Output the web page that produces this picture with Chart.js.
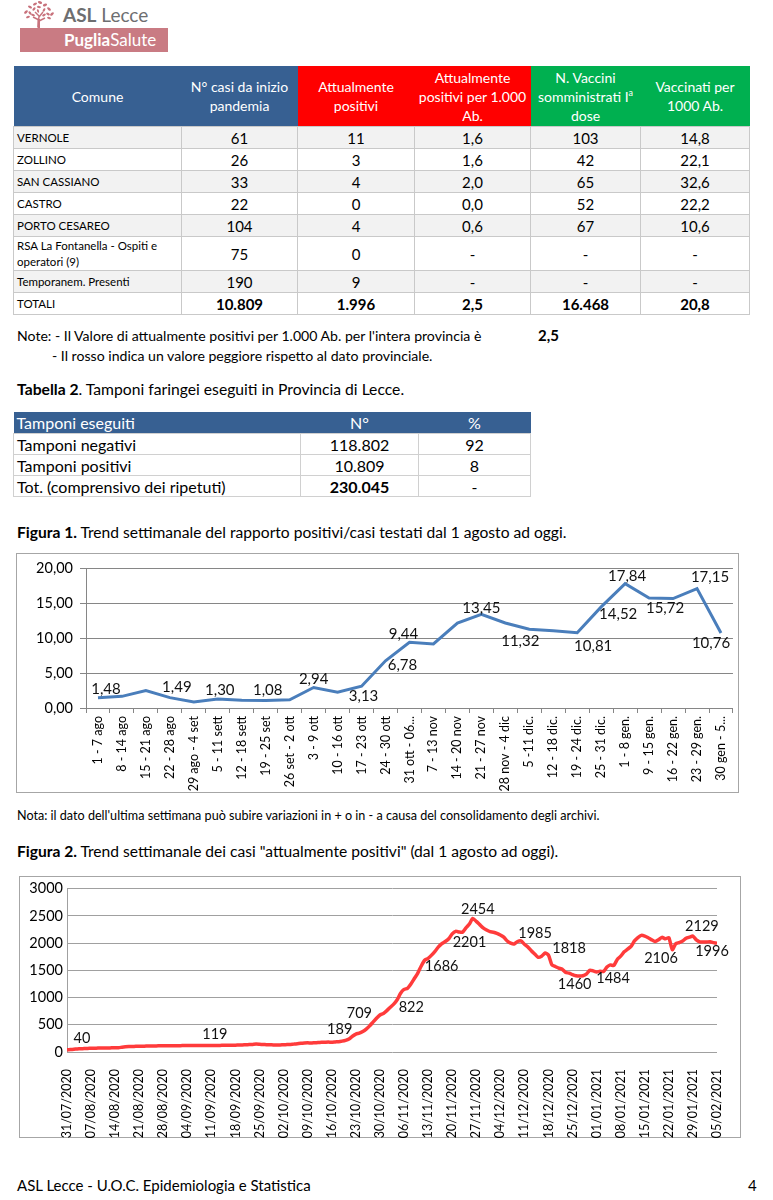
<!DOCTYPE html>
<html>
<head>
<meta charset="utf-8">
<script src="https://cdn.jsdelivr.net/npm/chart.js@4.4.1/dist/chart.umd.min.js"></script>
<style>
  body { margin: 0; width: 773px; height: 1200px; background: #fff; font-family: Lato, sans-serif; color: #000; position: relative; overflow: hidden; }
  .abs { position: absolute; white-space: nowrap; }
  .t1 { position: absolute; left: 13px; top: 66px; width: 736px; border-collapse: collapse; table-layout: fixed; }
  .t1 th { color: #fff; font-weight: normal; font-size: 14px; line-height: 19px; padding: 0 2px; height: 60px; text-align: center; }
  .t1 th.b { background: #376092; }
  .t1 th.r { background: #ff0000; }
  .t1 th.g { background: #00b050; }
  .t1 td { border: 1px solid #c9c9c9; height: 21px; padding: 0; text-align: center; font-size: 15px; }
  .t1 td.n { text-align: left; padding-left: 3px; font-size: 11.5px; }
  .t1 tr.s td { background: #f2f2f2; }
  .t1 tr.tot td { font-weight: bold; }
  .t1 tr.tot td.n { font-weight: normal; }
  .t2 { position: absolute; left: 13px; top: 412px; width: 517px; border-collapse: collapse; table-layout: fixed; font-size: 16px; }
  .t2 th { background: #376092; color: #fff; font-weight: normal; height: 21px; padding: 0; }
  .t2 td { border: 1px solid #d0d0d0; height: 20px; padding: 0; text-align: center; }
  .t2 .l { text-align: left; padding-left: 3px; }
  .box { position: absolute; border: 1px solid #a6a6a6; box-sizing: border-box; }
  canvas { position: absolute; }
</style>
</head>
<body>

<svg class="abs" style="left:18px;top:0" width="42" height="30" viewBox="0 0 42 30">
  <g fill="#c8727c">
    <ellipse cx="8" cy="12" rx="2.2" ry="1.2" transform="rotate(-40 8 12)"/>
    <ellipse cx="12" cy="7" rx="2.2" ry="1.2" transform="rotate(30 12 7)"/>
    <ellipse cx="17" cy="4" rx="2.2" ry="1.2" transform="rotate(-30 17 4)"/>
    <ellipse cx="22" cy="2.5" rx="2.2" ry="1.2" transform="rotate(20 22 2.5)"/>
    <ellipse cx="27" cy="5" rx="2.2" ry="1.2" transform="rotate(-20 27 5)"/>
    <ellipse cx="31" cy="9" rx="2.2" ry="1.2" transform="rotate(40 31 9)"/>
    <ellipse cx="34" cy="14" rx="2.2" ry="1.2" transform="rotate(-40 34 14)"/>
    <ellipse cx="12" cy="13" rx="2" ry="1.1" transform="rotate(50 12 13)"/>
    <ellipse cx="16" cy="9" rx="2" ry="1.1" transform="rotate(-50 16 9)"/>
    <ellipse cx="21" cy="7" rx="2" ry="1.1" transform="rotate(10 21 7)"/>
    <ellipse cx="26" cy="10" rx="2" ry="1.1" transform="rotate(-60 26 10)"/>
    <ellipse cx="30" cy="14" rx="2" ry="1.1" transform="rotate(30 30 14)"/>
    <ellipse cx="10" cy="17" rx="2" ry="1.1" transform="rotate(-20 10 17)"/>
    <ellipse cx="15" cy="15" rx="2" ry="1.1" transform="rotate(20 15 15)"/>
    <ellipse cx="26" cy="15" rx="2" ry="1.1" transform="rotate(-30 26 15)"/>
    <ellipse cx="31" cy="18" rx="2" ry="1.1" transform="rotate(20 31 18)"/>
    <ellipse cx="20" cy="11" rx="1.8" ry="1" transform="rotate(70 20 11)"/>
    <path d="M20 27 L21 16 L17 12 M21 17 L25 12 M21 20 L15 17 M21 21 L27 18" stroke="#c8727c" stroke-width="1.4" fill="none"/>
    <rect x="19.5" y="19" width="2.5" height="9"/>
  </g>
</svg>
<div class="abs" style="left:63px;top:4px;font-size:19px;color:#6d6e70;line-height:22px;"><b>ASL</b> Lecce</div>
<div class="abs" style="left:20px;top:28px;width:148px;height:24px;background:#c97b83;"></div>
<div class="abs" style="left:64px;top:29px;font-size:17px;color:#fff;line-height:22px;"><b>Puglia</b>Salute</div>

<table class="t1">
  <colgroup><col style="width:168px"><col style="width:116px"><col style="width:117px"><col style="width:116px"><col style="width:110px"><col style="width:109px"></colgroup>
  <tr>
    <th class="b">Comune</th>
    <th class="b">N° casi da inizio<br>pandemia</th>
    <th class="r">Attualmente<br>positivi</th>
    <th class="r">Attualmente<br>positivi per 1.000<br>Ab.</th>
    <th class="g">N. Vaccini<br>somministrati I<sup style="font-size:9px;line-height:0">a</sup><br>dose</th>
    <th class="g">Vaccinati per<br>1000 Ab.</th>
  </tr>
  <tr class="s"><td class="n">VERNOLE</td><td>61</td><td>11</td><td>1,6</td><td>103</td><td>14,8</td></tr>
  <tr><td class="n">ZOLLINO</td><td>26</td><td>3</td><td>1,6</td><td>42</td><td>22,1</td></tr>
  <tr class="s"><td class="n">SAN CASSIANO</td><td>33</td><td>4</td><td>2,0</td><td>65</td><td>32,6</td></tr>
  <tr><td class="n">CASTRO</td><td>22</td><td>0</td><td>0,0</td><td>52</td><td>22,2</td></tr>
  <tr class="s"><td class="n">PORTO CESAREO</td><td>104</td><td>4</td><td>0,6</td><td>67</td><td>10,6</td></tr>
  <tr><td class="n" style="height:33px;line-height:16px;">RSA La Fontanella - Ospiti e<br>operatori (9)</td><td>75</td><td>0</td><td>-</td><td>-</td><td>-</td></tr>
  <tr class="s"><td class="n">Temporanem. Presenti</td><td>190</td><td>9</td><td>-</td><td>-</td><td>-</td></tr>
  <tr class="tot"><td class="n">TOTALI</td><td>10.809</td><td>1.996</td><td>2,5</td><td>16.468</td><td>20,8</td></tr>
</table>

<div class="abs" style="left:17px;top:326px;font-size:14.1px;line-height:19px;">Note: - Il Valore di attualmente positivi per 1.000 Ab. per l'intera provincia è</div>
<div class="abs" style="left:538px;top:326px;font-size:15px;line-height:19px;font-weight:bold;">2,5</div>
<div class="abs" style="left:52px;top:346px;font-size:14.1px;line-height:19px;">- Il rosso indica un valore peggiore rispetto al dato provinciale.</div>

<div class="abs" style="left:17px;top:379px;font-size:15.7px;line-height:20px;"><b>Tabella 2</b>. Tamponi faringei eseguiti in Provincia di Lecce.</div>

<table class="t2">
  <colgroup><col style="width:287px"><col style="width:118px"><col style="width:112px"></colgroup>
  <tr><th class="l">Tamponi eseguiti</th><th>N°</th><th>%</th></tr>
  <tr><td class="l">Tamponi negativi</td><td>118.802</td><td>92</td></tr>
  <tr><td class="l">Tamponi positivi</td><td>10.809</td><td>8</td></tr>
  <tr><td class="l">Tot. (comprensivo dei ripetuti)</td><td><b>230.045</b></td><td>-</td></tr>
</table>

<div class="abs" style="left:17px;top:522px;font-size:15.6px;line-height:20px;"><b>Figura 1.</b> Trend settimanale del rapporto positivi/casi testati dal 1 agosto ad oggi.</div>
<div class="box" style="left:16px;top:553px;width:723px;height:240px;"></div>
<canvas id="fig1" width="723" height="240" style="left:16px;top:553px;width:723px;height:240px;"></canvas>

<div class="abs" style="left:17px;top:808px;font-size:12.6px;line-height:16px;">Nota: il dato dell'ultima settimana può subire variazioni in + o in - a causa del consolidamento degli archivi.</div>

<div class="abs" style="left:17px;top:841px;font-size:15.6px;line-height:20px;"><b>Figura 2.</b> Trend settimanale dei casi "attualmente positivi" (dal 1 agosto ad oggi).</div>
<div class="box" style="left:19px;top:876px;width:722px;height:262px;"></div>
<canvas id="fig2" width="722" height="262" style="left:19px;top:876px;width:722px;height:262px;"></canvas>

<div class="abs" style="left:17px;top:1175px;font-size:15px;line-height:20px;">ASL Lecce - U.O.C. Epidemiologia e Statistica</div>
<div class="abs" style="left:748px;top:1175px;font-size:15px;line-height:20px;">4</div>

<script>
// Figura 1 - rapporto positivi/casi testati, settimanale
const fig1Weeks = ['1 - 7 ago', '8 - 14 ago', '15 - 21 ago', '22 - 28 ago', '29 ago - 4 set', '5 - 11 sett', '12 - 18 sett',
  '19 - 25 set', '26 set - 2 ott', '3 - 9 ott', '10 - 16 ott', '17 - 23 ott', '24 - 30 ott', '31 ott - 06...',
  '7 - 13 nov', '14 - 20 nov', '21 - 27 nov', '28 nov - 4 dic', '5 -11 dic.', '12 - 18 dic.', '19 - 24 dic.',
  '25 - 31 dic.', '1 - 8 gen.', '9 - 15 gen.', '16 - 22 gen.', '23 - 29 gen.', '30 gen - 5...'];
const fig1Ratio = [1.48, 1.67, 2.50, 1.49, 0.88, 1.30, 1.10, 1.08, 1.18, 2.94, 2.27, 3.13, 6.78, 9.44,
  9.20, 12.20, 13.45, 12.20, 11.32, 11.10, 10.81, 14.52, 17.84, 15.80, 15.72, 17.15, 10.76];
const fig1Ticks = [0, 5, 10, 15, 20];

// Figura 2 - attualmente positivi, giornaliero dal 31/07/2020 al 05/02/2021
const fig2Ticks = ['31/07/2020', '07/08/2020', '14/08/2020', '21/08/2020', '28/08/2020', '04/09/2020', '11/09/2020',
  '18/09/2020', '25/09/2020', '02/10/2020', '09/10/2020', '16/10/2020', '23/10/2020', '30/10/2020', '06/11/2020',
  '13/11/2020', '20/11/2020', '27/11/2020', '04/12/2020', '11/12/2020', '18/12/2020', '25/12/2020', '01/01/2021',
  '08/01/2021', '15/01/2021', '22/01/2021', '29/01/2021', '05/02/2021'];
const fig2Active = [
  40, 45, 50, 56, 60, 63, 66,
  68, 70, 72, 73, 74, 75, 76,
  76, 80, 88, 95, 100, 102, 104,
  105, 106, 108, 110, 110, 112, 113,
  114, 115, 115, 116, 116, 117, 118,
  118, 118, 119, 118, 119, 119, 119,
  119, 119, 121, 122, 123, 124, 125,
  126, 128, 130, 133, 136, 140, 145,
  142, 138, 135, 132, 130, 128, 130,
  133, 136, 140, 145, 152, 160, 165,
  168, 165, 170, 174, 178, 180, 182,
  180, 185, 189, 200, 215, 240, 290,
  330, 345, 375, 420, 480, 550, 620,
  680, 709, 760, 822, 880, 960, 1080,
  1150, 1170, 1250, 1350, 1450, 1580, 1686,
  1720, 1780, 1850, 1930, 1990, 2030, 2080,
  2170, 2217, 2205, 2201, 2280, 2350, 2454,
  2400, 2340, 2280, 2240, 2210, 2200, 2180,
  2150, 2110, 2040, 2000, 1985, 2030, 2040,
  1980, 1930, 1860, 1800, 1740, 1760, 1818,
  1780, 1600, 1570, 1540, 1520, 1460, 1450,
  1420, 1400, 1395, 1400, 1430, 1500, 1490,
  1470, 1484, 1480, 1560, 1600, 1590, 1700,
  1760, 1840, 1890, 1940, 2040, 2100, 2142,
  2130, 2100, 2060, 2030, 2060, 2106, 2080,
  2100, 1880, 1990, 2010, 2040, 2090, 2110,
  2129, 2060, 2022, 2020, 2022, 2025, 2010, 1996];
const fig2YTicks = [0, 500, 1000, 1500, 2000, 2500, 3000];

// which points carry a value label, and where the label sits (dx, dy from the point)
const fig1Labelled = [[0, 8, -9], [3, 7, -10], [5, 2, -9], [7, 2, -10], [9, 0, -8], [11, 2, 10], [12, 17, 4],
  [13, -6, -8], [16, 0, -6], [18, -9, 12], [20, 16, 13], [21, 17, 7], [22, 2, -8], [24, -8, 10], [25, 13, -11], [26, -10, 10]];
const fig2Labelled = [[0, 15, -11], [43, 0, -11], [79, 1, -12], [92, -24, 0], [94, 21, 0], [104, 17, 6], [115, 7, 10],
  [118, 5, -9], [130, 21, -11], [139, 24, -5], [145, 9, 12], [155, 13, 7], [173, -1, 21], [182, 9, -10], [189, -5, 8]];

Chart.defaults.font.family = 'Lato, sans-serif';
Chart.defaults.color = '#000';
Chart.defaults.animation = false;

function valueLabels(items, fmt, font) {
  return {
    id: 'valueLabels',
    afterDatasetsDraw(chart) {
      const ctx = chart.ctx;
      const meta = chart.getDatasetMeta(0);
      const data = chart.data.datasets[0].data;
      ctx.save();
      ctx.font = font;
      ctx.fillStyle = '#111';
      ctx.textAlign = 'center';
      ctx.textBaseline = 'middle';
      items.forEach(([i, dx, dy]) => {
        const pt = meta.data[i];
        const v = typeof data[i] === 'object' ? data[i].y : data[i];
        ctx.fillText(fmt(v), pt.x + dx, pt.y + dy);
      });
      ctx.restore();
    }
  };
}

const comma2 = v => v.toFixed(2).replace('.', ',');

new Chart(document.getElementById('fig1'), {
  type: 'line',
  data: {
    labels: fig1Weeks,
    datasets: [{
      data: fig1Ratio,
      borderColor: '#4a7ebb',
      borderWidth: 3,
      pointRadius: 0,
      tension: 0,
    }],
  },
  options: {
    responsive: false,
    layout: { padding: { top: 11, right: 1, left: 0, bottom: 0 } },
    plugins: { legend: { display: false }, tooltip: { enabled: false } },
    scales: {
      x: {
        offset: true,
        grid: { offset: true, drawOnChartArea: false, tickLength: 5, color: '#868686' },
        border: { color: '#868686' },
        ticks: { autoSkip: false, minRotation: 90, maxRotation: 90, padding: 3, font: { size: 12.5 }, color: '#000' },
        afterFit: s => { s.height = 85; },
      },
      y: {
        min: 0, max: 20,
        afterBuildTicks: s => { s.ticks = fig1Ticks.map(v => ({ value: v })); },
        grid: { color: '#868686', tickLength: 6 },
        border: { color: '#868686' },
        ticks: { callback: v => comma2(v), padding: 7, font: { size: 14.5 }, color: '#000' },
        afterFit: s => { s.width = 70; },
      },
    },
  },
  plugins: [valueLabels(fig1Labelled, comma2, '15px Lato')],
});

new Chart(document.getElementById('fig2'), {
  type: 'line',
  data: {
    datasets: [{
      data: fig2Active.map((v, i) => ({ x: i, y: v })),
      borderColor: '#ff3b3b',
      borderWidth: 3.5,
      pointRadius: 0,
      tension: 0.2,
    }],
  },
  options: {
    responsive: false,
    layout: { padding: { top: 9, right: 12, left: 0, bottom: 0 } },
    plugins: { legend: { display: false }, tooltip: { enabled: false } },
    scales: {
      x: {
        type: 'linear',
        min: 0, max: fig2Active.length - 1,
        afterBuildTicks: s => { s.ticks = fig2Ticks.map((t, k) => ({ value: k * 7 })); },
        grid: { display: false },
        border: { display: false },
        ticks: { autoSkip: false, minRotation: 90, maxRotation: 90, padding: 9, font: { size: 12.5 }, color: '#000',
          callback: (v, k) => fig2Ticks[k] },
        afterFit: s => { s.height = 86; },
      },
      y: {
        min: 0, max: 3000,
        afterBuildTicks: s => { s.ticks = fig2YTicks.map(v => ({ value: v })); },
        ticks: { callback: v => String(v), padding: 4, font: { size: 14.5 }, color: '#000' },
        grid: { color: '#a0a0a0', drawTicks: false },
        border: { color: '#a0a0a0' },
        afterFit: s => { s.width = 48; },
      },
    },
  },
  plugins: [valueLabels(fig2Labelled, v => String(v), '14.5px Lato')],
});
</script>
</body>
</html>
